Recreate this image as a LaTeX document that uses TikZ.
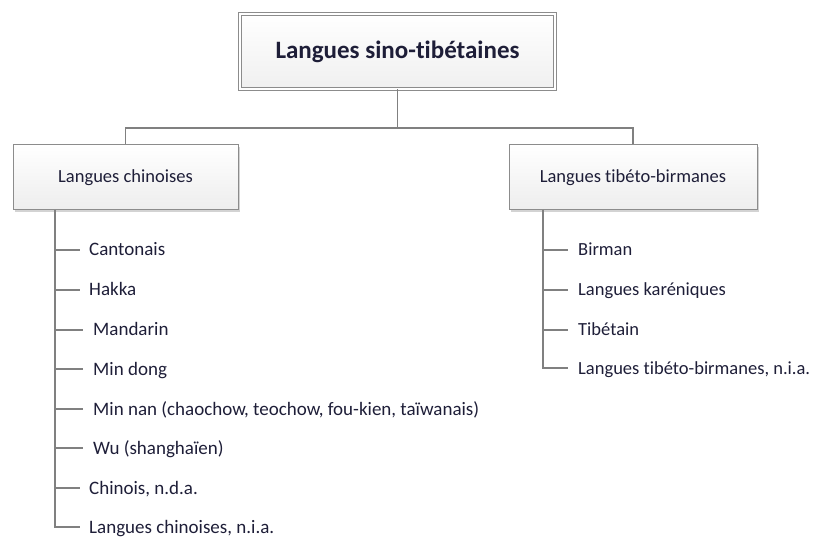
\documentclass[tikz,border=0pt]{standalone}
\usepackage{fontspec}
\setmainfont{Carlito}[Ligatures={NoCommon}]
\usetikzlibrary{shadows,calc}
\definecolor{txt}{HTML}{1E1E38}
\definecolor{ln}{HTML}{808080}
\definecolor{bd}{HTML}{8C8C8C}
\tikzset{
  x=1pt,y=-1pt,
  conn/.style={draw=ln,line width=1.1pt},
  catbox/.style={draw=bd,line width=1pt,top color=white,bottom color=black!7,
    drop shadow={shadow xshift=2pt,shadow yshift=-2pt,opacity=0.35,fill=black!50},
    minimum width=225pt,minimum height=65pt,inner sep=0pt,
    font=\fontsize{18.5}{22}\selectfont,text=txt},
  titlebox/.style={draw=bd,line width=1pt,double=white,double distance=2pt,
    top color=white,bottom color=black!6,
    drop shadow={shadow xshift=2pt,shadow yshift=-2pt,opacity=0.35,fill=black!50},
    minimum width=315pt,minimum height=75pt,inner sep=0pt,
    font=\fontsize{25}{30}\selectfont\bfseries,text=txt},
  item/.style={anchor=west,inner sep=0pt,text height=14pt,text depth=2pt,
    font=\fontsize{19}{22}\selectfont,text=txt},
  ritem/.style={item,font=\fontsize{18.5}{22}\selectfont},
}
\begin{document}
\begin{tikzpicture}
\useasboundingbox (0,0) rectangle (814,537);
\node[titlebox] (top) at (397.5,51.5) {Langues sino-tibétaines};
\node[catbox] (left) at (125.5,177.5) {Langues chinoises};
\node[catbox,minimum width=248pt] (right) at (633,177.5) {Langues tibéto-birmanes};
\coordinate (j) at (397.5,128);
\draw[conn] (top.south) -- (j);
\draw[conn] (j) -| (left.north);
\draw[conn] (j) -| (right.north);
% left items
\node[item] (c1) at (89,250) {Cantonais};
\node[item] (c2) at (89,290) {Hakka};
\node[item] (c3) at (93,330) {Mandarin};
\node[item] (c4) at (93,369) {Min dong};
\node[item] (c5) at (93,409) {Min nan (chaochow, teochow, fou-kien, taïwanais)};
\node[item] (c6) at (93,448) {Wu (shanghaïen)};
\node[item] (c7) at (89,488) {Chinois, n.d.a.};
\node[item] (c8) at (89,527) {Langues chinoises, n.i.a.};
\coordinate (lv) at (55,210);
\draw[conn] (lv) |- ([xshift=-9pt]c8.west);
\foreach \i in {1,2,7} \draw[conn] (c\i.west -| lv) -- ([xshift=-9pt]c\i.west);
\foreach \i in {3,4,5,6} \draw[conn] (c\i.west -| lv) -- ([xshift=-10pt]c\i.west);
% right items
\node[ritem] (r1) at (578,250) {Birman};
\node[ritem] (r2) at (578,290) {Langues karéniques};
\node[ritem] (r3) at (578,330) {Tibétain};
\node[ritem] (r4) at (578,368) {Langues tibéto-birmanes, n.i.a.};
\coordinate (rv) at (543,210);
\draw[conn] (rv) |- ([xshift=-10pt]r4.west);
\foreach \i in {1,2,3} \draw[conn] (r\i.west -| rv) -- ([xshift=-10pt]r\i.west);
\end{tikzpicture}
\end{document}
